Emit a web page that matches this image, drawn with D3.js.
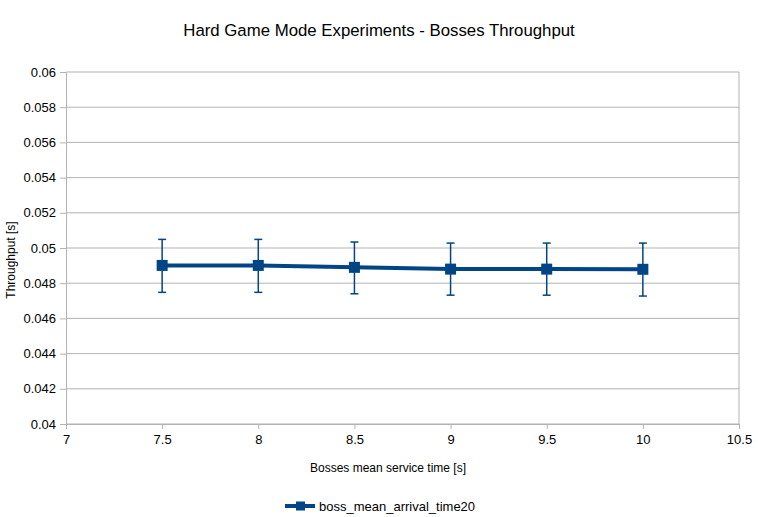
<!DOCTYPE html>
<html>
<head>
<meta charset="utf-8">
<script src="https://cdn.jsdelivr.net/npm/d3@7"></script>
<style>
  body { margin: 0; background: #fff; }
  text { font-family: "Liberation Sans", Arial, sans-serif; }
</style>
</head>
<body>
<div id="chart"></div>
<script>
// Chart data
const serviceTimes = [7.5, 8, 8.5, 9, 9.5, 10];
const throughput = [0.04901, 0.04901, 0.0489, 0.0488, 0.0488, 0.04879];
const errLow = [0.00153, 0.00153, 0.0015, 0.00148, 0.00148, 0.00152];
const errHigh = [0.00148, 0.00148, 0.00144, 0.00148, 0.00148, 0.00149];
const xTicks = [7, 7.5, 8, 8.5, 9, 9.5, 10, 10.5];
const yTicks = [0.04, 0.042, 0.044, 0.046, 0.048, 0.05, 0.052, 0.054, 0.056, 0.058, 0.06];
const seriesName = 'boss_mean_arrival_time20';

const width = 758;
const height = 517;
const margin = { top: 72, right: 19, bottom: 93, left: 66 };
const innerW = width - margin.left - margin.right;
const innerH = height - margin.top - margin.bottom;
const lineColor = '#004586';
const gridColor = '#b3b3b3';

const data = serviceTimes.map((t, i) => ({
    t, v: throughput[i], lo: throughput[i] - errLow[i], hi: throughput[i] + errHigh[i]
}));

const svg = d3.select('#chart')
    .append('svg')
    .attr('width', width)
    .attr('height', height);

// Title
svg.append('text')
    .attr('x', 379)
    .attr('y', 36)
    .attr('text-anchor', 'middle')
    .attr('font-size', 16.8)
    .attr('fill', '#000')
    .text('Hard Game Mode Experiments - Bosses Throughput');

const g = svg.append('g')
    .attr('transform', `translate(${margin.left},${margin.top})`);

const x = d3.scaleLinear().domain([7, 10.5]).range([0, innerW]);
const y = d3.scaleLinear().domain([0.04, 0.06]).range([innerH, 0]);

// Horizontal grid lines
g.append('g')
    .selectAll('line')
    .data(yTicks)
    .enter()
    .append('line')
    .attr('x1', 0)
    .attr('x2', innerW)
    .attr('y1', d => y(d))
    .attr('y2', d => y(d))
    .attr('stroke', gridColor)
    .attr('stroke-width', 1);

// Y axis
const yAxis = g.append('g')
    .call(d3.axisLeft(y).tickValues(yTicks).tickSize(6).tickPadding(4)
        .tickFormat(d => d3.format('.3~f')(d)));
yAxis.select('.domain').attr('stroke', gridColor);
yAxis.selectAll('.tick line').attr('stroke', gridColor);
yAxis.selectAll('.tick text').attr('font-size', 13).attr('fill', '#000')
    .attr('font-family', '"Liberation Sans", Arial, sans-serif');

// X axis
const xAxis = g.append('g')
    .attr('transform', `translate(0,${innerH})`)
    .call(d3.axisBottom(x).tickValues(xTicks).tickSize(5).tickPadding(6)
        .tickFormat(d3.format('~g')));
xAxis.select('.domain').attr('stroke', gridColor);
xAxis.selectAll('.tick line').attr('stroke', gridColor);
xAxis.selectAll('.tick text').attr('font-size', 13).attr('fill', '#000')
    .attr('font-family', '"Liberation Sans", Arial, sans-serif');

// Right border of plot area
g.append('line')
    .attr('x1', innerW).attr('x2', innerW)
    .attr('y1', 0).attr('y2', innerH)
    .attr('stroke', gridColor);

// Axis titles
svg.append('text')
    .attr('x', 388)
    .attr('y', 472)
    .attr('text-anchor', 'middle')
    .attr('font-size', 12)
    .attr('fill', '#000')
    .text('Bosses mean service time [s]');

svg.append('text')
    .attr('transform', 'translate(15,260) rotate(-90)')
    .attr('text-anchor', 'middle')
    .attr('font-size', 12)
    .attr('fill', '#000')
    .text('Throughput [s]');

// Error bars
const errs = g.append('g')
    .selectAll('g')
    .data(data)
    .enter()
    .append('g')
    .attr('stroke', lineColor)
    .attr('stroke-width', 1.5);
errs.append('line')
    .attr('x1', d => x(d.t)).attr('x2', d => x(d.t))
    .attr('y1', d => y(d.hi)).attr('y2', d => y(d.lo));
errs.append('line')
    .attr('x1', d => x(d.t) - 4).attr('x2', d => x(d.t) + 4)
    .attr('y1', d => y(d.hi)).attr('y2', d => y(d.hi));
errs.append('line')
    .attr('x1', d => x(d.t) - 4).attr('x2', d => x(d.t) + 4)
    .attr('y1', d => y(d.lo)).attr('y2', d => y(d.lo));

// Line
const line = d3.line().x(d => x(d.t)).y(d => y(d.v));
g.append('path')
    .datum(data)
    .attr('d', line)
    .attr('fill', 'none')
    .attr('stroke', lineColor)
    .attr('stroke-width', 4);

// Square markers
const ms = 11;
g.selectAll('rect.marker')
    .data(data)
    .enter()
    .append('rect')
    .attr('class', 'marker')
    .attr('x', d => x(d.t) - ms / 2)
    .attr('y', d => y(d.v) - ms / 2)
    .attr('width', ms)
    .attr('height', ms)
    .attr('fill', lineColor);

// Legend
const legend = svg.append('g').attr('transform', 'translate(285,506)');
legend.append('line')
    .attr('x1', 0).attr('x2', 30)
    .attr('y1', 0).attr('y2', 0)
    .attr('stroke', lineColor)
    .attr('stroke-width', 4);
legend.append('rect')
    .attr('x', 11).attr('y', -4.5)
    .attr('width', 9).attr('height', 9)
    .attr('fill', lineColor);
legend.append('text')
    .attr('x', 34)
    .attr('y', 5)
    .attr('font-size', 13)
    .attr('fill', '#000')
    .text(seriesName);
</script>
</body>
</html>
